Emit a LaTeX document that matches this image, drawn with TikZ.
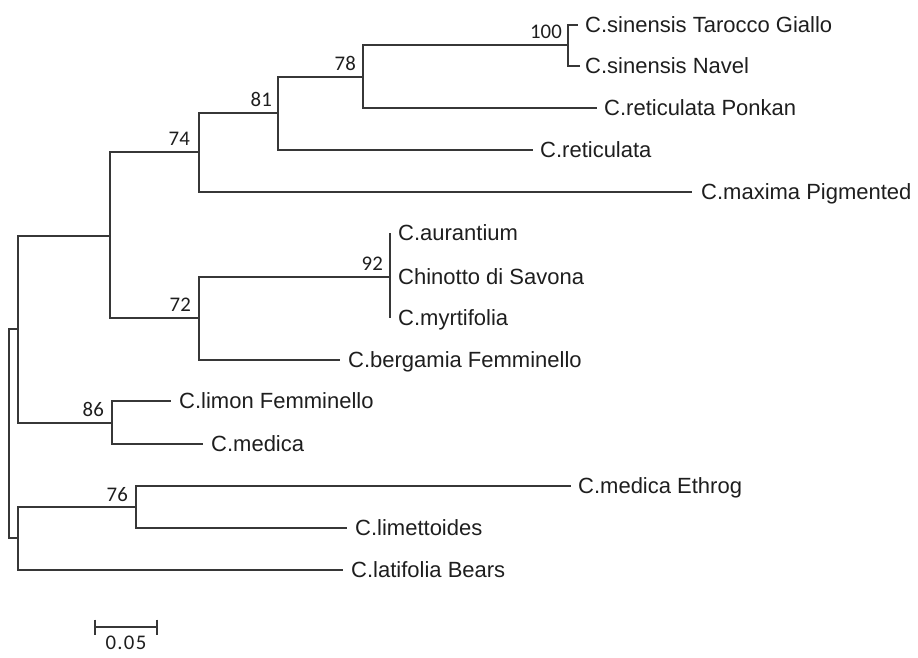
\documentclass[tikz,border=0pt]{standalone}
\usepackage{fontspec}
\setmainfont{Liberation Sans}
\newfontfamily\bootfont{Carlito}
\newfontfamily\scalebarfont[LetterSpace=6]{Carlito}
\usetikzlibrary{positioning}
\definecolor{branchgray}{RGB}{55,55,55}
\definecolor{labelgray}{RGB}{30,30,30}

\begin{document}
\begin{tikzpicture}[
        x=1pt, y=-1pt,
        branch/.style={draw=branchgray, line width=1.4pt},
        leaf/.style={font=\fontsize{22}{24}\selectfont, text=labelgray, inner sep=0pt, text height=15.75pt, text depth=0pt},
        boot/.style={font=\bootfont\fontsize{20.8}{22}\selectfont, text=labelgray, inner sep=0pt},
        scalelabel/.style={font=\scalebarfont\fontsize{20.8}{22}\selectfont, text=labelgray, inner sep=0pt},
    ]

    \useasboundingbox (0,0) rectangle (918,657);

    % ===== Internal nodes =====
    \coordinate (ROOT) at (9,433);
    \coordinate (N_UP) at (18,329);
    \coordinate (N_LOW) at (18,538);
    \coordinate (N_CORE) at (110,236);
    \coordinate (N74) at (199,152);
    \coordinate (N81) at (278,113);
    \coordinate (N78) at (363,77);
    \coordinate (N100) at (568,45);
    \coordinate (N72) at (199,318);
    \coordinate (N92) at (390,277);
    \coordinate (N86) at (112,423);
    \coordinate (N76) at (136,507);

    % ===== Leaf tips =====
    \coordinate (L_TAROCCO) at (578,25);
    \coordinate (L_NAVEL) at (580,66);
    \coordinate (L_PONKAN) at (597,108);
    \coordinate (L_RETIC) at (533,150);
    \coordinate (L_MAXIMA) at (692,192);
    \coordinate (L_AURANT) at (390,233);
    \coordinate (L_CHINOTTO) at (390,277);
    \coordinate (L_MYRT) at (390,318);
    \coordinate (L_BERGAMIA) at (340,360);
    \coordinate (L_LIMON) at (171,401);
    \coordinate (L_MEDICA) at (203,444);
    \coordinate (L_ETHROG) at (571,486);
    \coordinate (L_LIMETT) at (347,528);
    \coordinate (L_LATIF) at (343,570);

    % ===== Branches =====
    \draw[branch] (ROOT) |- (N_UP);
    \draw[branch] (ROOT) |- (N_LOW);
    \draw[branch] (N_UP) |- (N_CORE);
    \draw[branch] (N_UP) |- (N86);
    \draw[branch] (N_CORE) |- (N74);
    \draw[branch] (N_CORE) |- (N72);
    \draw[branch] (N74) |- (N81);
    \draw[branch] (N74) |- (L_MAXIMA);
    \draw[branch] (N81) |- (N78);
    \draw[branch] (N81) |- (L_RETIC);
    \draw[branch] (N78) |- (N100);
    \draw[branch] (N78) |- (L_PONKAN);
    \draw[branch] (N100) |- (L_TAROCCO);
    \draw[branch] (N100) |- (L_NAVEL);
    \draw[branch] (N72) |- (N92);
    \draw[branch] (N72) |- (L_BERGAMIA);
    \draw[branch] (N92) |- (L_AURANT);
    \draw[branch] (N92) |- (L_MYRT);
    \draw[branch] (N86) |- (L_LIMON);
    \draw[branch] (N86) |- (L_MEDICA);
    \draw[branch] (N_LOW) |- (N76);
    \draw[branch] (N_LOW) |- (L_LATIF);
    \draw[branch] (N76) |- (L_ETHROG);
    \draw[branch] (N76) |- (L_LIMETT);

    % ===== Taxon labels =====
    \node[leaf, right=7pt of L_TAROCCO] (T_TAROCCO) {C.sinensis Tarocco Giallo};
    \node[leaf, right=5pt of L_NAVEL] (T_NAVEL) {C.sinensis Navel};
    \node[leaf, right=7pt of L_PONKAN] (T_PONKAN) {C.reticulata Ponkan};
    \node[leaf, right=7pt of L_RETIC] (T_RETIC) {C.reticulata};
    \node[leaf, right=9pt of L_MAXIMA] (T_MAXIMA) {C.maxima Pigmented};
    \node[leaf, right=8pt of L_AURANT] (T_AURANT) {C.aurantium};
    \node[leaf, right=8pt of L_CHINOTTO] (T_CHINOTTO) {Chinotto di Savona};
    \node[leaf, right=8pt of L_MYRT] (T_MYRT) {C.myrtifolia};
    \node[leaf, right=8pt of L_BERGAMIA] (T_BERGAMIA) {C.bergamia Femminello};
    \node[leaf, right=8pt of L_LIMON] (T_LIMON) {C.limon Femminello};
    \node[leaf, right=8pt of L_MEDICA] (T_MEDICA) {C.medica};
    \node[leaf, right=7pt of L_ETHROG] (T_ETHROG) {C.medica Ethrog};
    \node[leaf, right=8pt of L_LIMETT] (T_LIMETT) {C.limettoides};
    \node[leaf, right=8pt of L_LATIF] (T_LATIF) {C.latifolia Bears};

    % ===== Bootstrap values =====
    \node[boot, above left=6pt and 6pt of N100] (B100) {100};
    \node[boot, above left=6pt and 7pt of N78] (B78) {78};
    \node[boot, above left=6pt and 6pt of N81] (B81) {81};
    \node[boot, above left=6pt and 9pt of N74] (B74) {74};
    \node[boot, above left=6pt and 7pt of N92] (B92) {92};
    \node[boot, above left=6pt and 8pt of N72] (B72) {72};
    \node[boot, above left=6pt and 8pt of N86] (B86) {86};
    \node[boot, above left=5pt and 8pt of N76] (B76) {76};

    % ===== Scale bar =====
    \coordinate (SB_L) at (95,627);
    \coordinate (SB_R) at (157,627);
    \coordinate (SB_MID) at (126,627);
    \draw[branch] (SB_L) -- (SB_R);
    \draw[branch] ([yshift=7.5pt]SB_L) -- ([yshift=-7.5pt]SB_L);
    \draw[branch] ([yshift=7.5pt]SB_R) -- ([yshift=-7.5pt]SB_R);
    \node[scalelabel, below=9pt of SB_MID] (SB_TXT) {0.05};

\end{tikzpicture}
\end{document}
